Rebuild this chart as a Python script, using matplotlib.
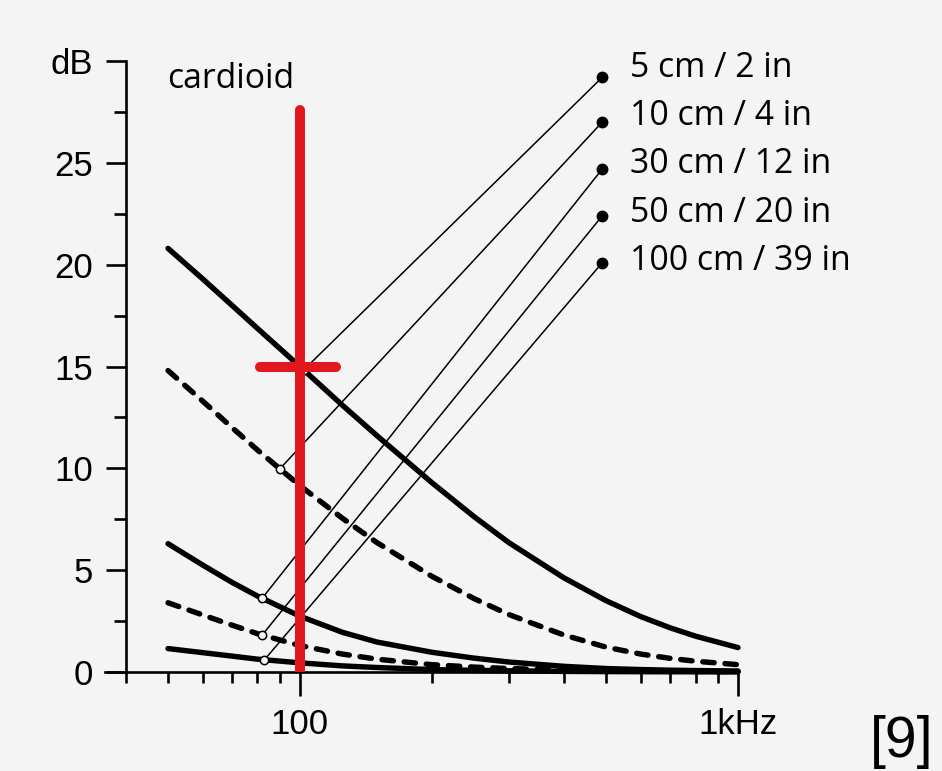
import numpy as np
import matplotlib
matplotlib.use("Agg")
import matplotlib.pyplot as plt
from matplotlib.ticker import FixedLocator, NullFormatter

# frequency points (Hz) and proximity boost (dB) for a cardioid at each distance
freq = [50, 60, 70, 80, 100, 125, 150, 200, 250, 300, 400, 500, 600, 700, 800, 1000]
db_5cm = [20.8, 19.3, 18.0, 16.87, 15.0, 13.1, 11.6, 9.3, 7.62, 6.35, 4.63, 3.5, 2.72, 2.17, 1.76, 1.2]
db_10cm = [14.8, 13.3, 12.0, 10.9, 9.15, 7.55, 6.35, 4.7, 3.6, 2.82, 1.82, 1.22, 0.88, 0.67, 0.53, 0.36]
db_30cm = [6.3, 5.25, 4.4, 3.73, 2.74, 1.95, 1.47, 0.97, 0.68, 0.49, 0.28, 0.17, 0.12, 0.09, 0.07, 0.05]
db_50cm = [3.4, 2.8, 2.3, 1.88, 1.3, 0.88, 0.63, 0.36, 0.24, 0.17, 0.1, 0.07, 0.05, 0.04, 0.03, 0.02]
db_100cm = [1.15, 0.95, 0.78, 0.63, 0.45, 0.3, 0.22, 0.12, 0.08, 0.06, 0.03, 0.02, 0.015, 0.01, 0.01, 0.0]

curves = [db_5cm, db_10cm, db_30cm, db_50cm, db_100cm]
labels = ["5 cm / 2 in", "10 cm / 4 in", "30 cm / 12 in", "50 cm / 20 in", "100 cm / 39 in"]
dashed = [False, True, False, True, False]

# where each leader line leaves its curve (Hz)
anchor_freq = [102, 90, 82, 82, 83]

# marked point: 15 dB at 100 Hz
mark_freq = 100
mark_db = 15

# layout of the legend column (data coords)
dot_f = 490
dot_db = [29.2, 27.0, 24.7, 22.4, 20.1]
text_f = 567
text_db = [29.22, 26.85, 24.5, 22.1, 19.74]

bg = "#f4f4f4"
red = "#e3171e"

fig = plt.figure(figsize=(9.42, 7.71), dpi=100, facecolor=bg)
ax = fig.add_axes([105 / 942, 1 - 672 / 771, (738 - 105) / 942, (672 - 61) / 771])
ax.set_facecolor(bg)
ax.set_xscale("log")
ax.set_xlim(35.9, 1000)
ax.set_ylim(0, 30)

for s in ["top", "right"]:
    ax.spines[s].set_visible(False)
ax.spines["left"].set_position(("data", 40))
ax.spines["left"].set_linewidth(1.9)
ax.spines["bottom"].set_linewidth(1.9)

# ticks
ax.xaxis.set_major_locator(FixedLocator([100, 1000]))
ax.set_xticklabels(["100", "1kHz"])
minor_x = [40, 50, 60, 70, 80, 90, 200, 300, 400, 500, 600, 700, 800, 900]
ax.xaxis.set_minor_locator(FixedLocator(minor_x))
ax.xaxis.set_minor_formatter(NullFormatter())
ax.set_yticks([0, 5, 10, 15, 20, 25, 30])
ax.set_yticklabels(["0", "5", "10", "15", "20", "25", "dB"])
ax.yaxis.set_minor_locator(FixedLocator(np.arange(2.5, 30, 5)))
ax.tick_params(axis="x", which="major", length=17, width=1.9, pad=9, labelsize=25)
ax.tick_params(axis="x", which="minor", length=8, width=1.9)
ax.tick_params(axis="y", which="major", length=14.5, width=1.9, pad=9, labelsize=25)
ax.tick_params(axis="y", which="minor", length=9, width=1.9)
for t in ax.get_xticklabels() + ax.get_yticklabels():
    t.set_fontfamily("Liberation Sans")

# curves
for db, is_dash in zip(curves, dashed):
    if is_dash:
        ax.plot(freq, db, color="black", lw=3.9, linestyle=(0, (2.1, 2.0)),
                dash_capstyle="round", clip_on=False, zorder=3)
    else:
        ax.plot(freq, db, color="black", lw=3.9, solid_capstyle="round",
                solid_joinstyle="round", clip_on=False, zorder=3)

# leader lines from each curve to its label
logf = np.log10(freq)
for db, fa, yd, yt, lab in zip(curves, anchor_freq, dot_db, text_db, labels):
    ya = np.interp(np.log10(fa), logf, db)
    ax.plot([fa, dot_f], [ya, yd], color="black", lw=1.1, clip_on=False, zorder=4)
    ax.plot(fa, ya, "o", ms=6, mfc=bg, mec="black", mew=1.1, clip_on=False, zorder=4)
    ax.plot(dot_f, yd, "o", ms=7.5, color="black", clip_on=False, zorder=4)
    ax.text(text_f, yt, lab, fontsize=24.3, family="Open Sans", va="baseline",
            ha="left", clip_on=False)

ax.text(49.7, 28.68, "cardioid", fontsize=24.3, family="Open Sans", va="baseline", ha="left")

# red marker at 100 Hz / 15 dB
ax.plot([mark_freq, mark_freq], [0, 27.6], color=red, lw=7.2, solid_capstyle="round", zorder=6)
ax.plot([81, 121], [mark_db, mark_db], color=red, lw=7.2, solid_capstyle="round", zorder=6)

fig.text(933 / 942, 1 - 757 / 771, "[9]", fontsize=41, family="Liberation Sans",
         ha="right", va="baseline")

fig.savefig("out.png", dpi=100, facecolor=bg)
